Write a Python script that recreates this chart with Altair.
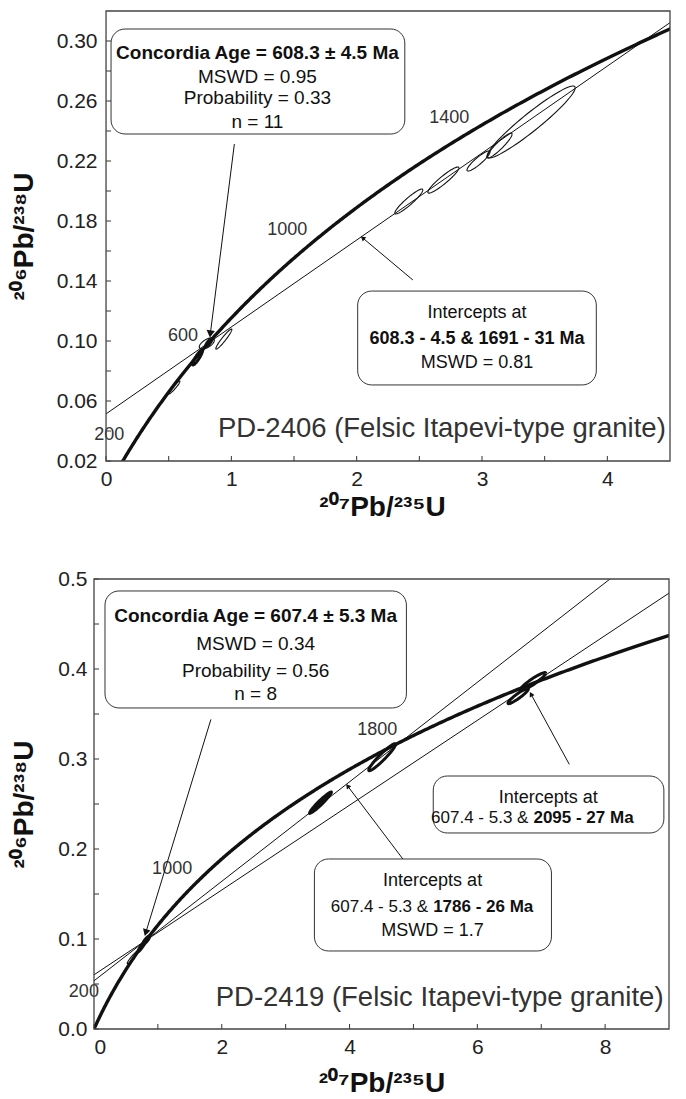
import numpy as np
import pandas as pd
import altair as alt

FONT = "Liberation Sans"
INK = "#111111"
FRAME = "#444444"

# U-Pb decay constants (1/yr)
LAMBDA_238 = 1.55125e-10
LAMBDA_235 = 9.8485e-10


def concordia(age_ma):
    t = np.asarray(age_ma, dtype=float) * 1e6
    return np.expm1(LAMBDA_235 * t), np.expm1(LAMBDA_238 * t)


# ages (Ma) at which the concordia curve is traced
curve_ages_ma = list(range(0, 2601, 5))

X_TITLE = "²⁰⁷Pb/²³⁵U"
Y_TITLE = "²⁰⁶Pb/²³⁸U"

# ---------------- PD-2406 ----------------
a_name = "PD-2406 (Felsic Itapevi-type granite)"
a_conc_age, a_conc_err, a_conc_mswd, a_conc_prob, a_n = 608.3, 4.5, 0.95, 0.33, 11
a_lower, a_lower_err = 608.3, 4.5
a_upper, a_upper_err, a_mswd = [1691], [31], [0.81]
a_age_marks = [200, 600, 1000, 1400]
a_ell_cx = [2.416, 2.692, 2.972, 3.140, 3.392, 0.804, 0.940, 0.545, 0.730]
a_ell_cy = [0.1930, 0.2073, 0.2200, 0.2303, 0.2460, 0.0983, 0.1013, 0.0690, 0.0890]
a_ell_hx = [0.112, 0.124, 0.092, 0.100, 0.352, 0.060, 0.064, 0.045, 0.040]
a_ell_hy = [0.0083, 0.0087, 0.0067, 0.0083, 0.0240, 0.0037, 0.0067, 0.0043, 0.0050]
a_ell_rho = [0.93, 0.93, 0.90, 0.92, 0.95, 0.60, 0.95, 0.95, 0.90]
a_ell_style = ["thin"] * 8 + ["bold"]

# ---------------- PD-2419 ----------------
b_name = "PD-2419 (Felsic Itapevi-type granite)"
b_conc_age, b_conc_err, b_conc_mswd, b_conc_prob, b_n = 607.4, 5.3, 0.34, 0.56, 8
b_lower, b_lower_err = 607.4, 5.3
b_upper, b_upper_err, b_mswd = [1786, 2095], [26, 27], [1.7, None]
b_age_marks = [200, 1000, 1800]
b_ell_cx = [3.545, 4.510, 6.640, 6.870, 0.610, 0.750]
b_ell_cy = [0.2515, 0.3020, 0.3700, 0.3860, 0.0800, 0.0920]
b_ell_hx = [0.180, 0.210, 0.160, 0.200, 0.090, 0.060]
b_ell_hy = [0.0125, 0.0150, 0.0085, 0.0100, 0.0075, 0.0060]
b_ell_rho = [0.95, 0.95, 0.93, 0.93, 0.95, 0.95]
b_ell_style = ["solid", "bold", "bold", "bold", "thin", "bold"]


def ellipse_frame(cx, cy, hx, hy, rho, style):
    rows = []
    th = np.linspace(0, 2 * np.pi, 73)
    for i in range(len(cx)):
        xs = cx[i] + hx[i] * np.cos(th)
        ys = cy[i] + hy[i] * (rho[i] * np.cos(th) + np.sqrt(1 - rho[i] ** 2) * np.sin(th))
        for k, (x, y) in enumerate(zip(xs, ys)):
            rows.append({"id": i, "k": k, "x": x, "y": y, "style": style[i]})
    return pd.DataFrame(rows)


def discordia_frame(lower, uppers, xmax):
    rows = []
    x0, y0 = concordia(lower)
    for j, up in enumerate(uppers):
        x1, y1 = concordia(up)
        slope = (y1 - y0) / (x1 - x0)
        b = y0 - slope * x0
        for k, x in enumerate([0.0, xmax]):
            rows.append({"id": j, "k": k, "x": x, "y": b + slope * x})
    return pd.DataFrame(rows)


PANELS = [
    dict(
        name=a_name, conc=(a_conc_age, a_conc_err, a_conc_mswd, a_conc_prob, a_n),
        lower=(a_lower, a_lower_err), upper=list(zip(a_upper, a_upper_err, a_mswd)),
        age_marks=a_age_marks,
        ell=(a_ell_cx, a_ell_cy, a_ell_hx, a_ell_hy, a_ell_rho, a_ell_style),
        # the scale starts a little left of the frame so the y labels sit in that gutter
        frame_x=[0, 4.5], xdom=[-0.096, 4.5], ydom=[0.02, 0.32], w=576, h=450,
        xlabels=[0, 1, 2, 3, 4], xminor=[0.5, 1.5, 2.5, 3.5],
        ylabels=[0.02, 0.06, 0.10, 0.14, 0.18, 0.22, 0.26, 0.30],
        yminor=[0.04, 0.08, 0.12, 0.16, 0.20, 0.24, 0.28], yfmt=".2f",
        ypad=(-3, 18), xtpad=4,
        conc_box=dict(x=[0.04, 2.384], y=[0.238, 0.308], cx=1.208,
                      ys=[0.292, 0.276, 0.262, 0.246]),
        icpt_boxes=[dict(x=[2.008, 3.912], y=[0.0707, 0.1333], cx=2.96,
                         ys=[0.1187, 0.1013, 0.0853], split=None)],
        leaders=[((1.024, 0.2313), (0.832, 0.1047), 70),
                 ((2.448, 0.1407), (2.048, 0.1687), 30)],
        name_pos=(2.68, 0.0413),
    ),
    dict(
        name=b_name, conc=(b_conc_age, b_conc_err, b_conc_mswd, b_conc_prob, b_n),
        lower=(b_lower, b_lower_err), upper=list(zip(b_upper, b_upper_err, b_mswd)),
        age_marks=b_age_marks,
        ell=(b_ell_cx, b_ell_cy, b_ell_hx, b_ell_hy, b_ell_rho, b_ell_style),
        frame_x=[0, 9], xdom=[0, 9], ydom=[0.0, 0.5], w=575, h=450,
        xlabels=[0, 2, 4, 6, 8], xminor=[1, 3, 5, 7],
        ylabels=[0.0, 0.1, 0.2, 0.3, 0.4, 0.5],
        yminor=[0.05, 0.15, 0.25, 0.35, 0.45], yfmt=".1f",
        ypad=(7, 19), xtpad=12,
        conc_box=dict(x=[0.172, 4.89], y=[0.3567, 0.4867], cx=2.53,
                      ys=[0.4589, 0.4278, 0.3978, 0.3722]),
        icpt_boxes=[dict(x=[3.45, 7.16], y=[0.0867, 0.1889], cx=5.30,
                         ys=[0.1644, 0.1356, 0.1089], split=5.23),
                    dict(x=[5.31, 8.92], y=[0.2178, 0.2811], cx=7.11,
                         ys=[0.2567, 0.2344], split=6.80)],
        leaders=[((1.83, 0.344), (0.81, 0.107), 60),
                 ((4.94, 0.179), (3.97, 0.270), 30),
                 ((7.44, 0.294), (6.84, 0.372), 30)],
        name_pos=(5.41, 0.0344),
    ),
]


def build_panel(p):
    xs = alt.Scale(domain=p["xdom"], nice=False, zero=False)
    ys = alt.Scale(domain=p["ydom"], nice=False, zero=False)
    X = alt.X("x:Q", scale=xs, title=X_TITLE,
              axis=alt.Axis(values=p["xlabels"], format="d", titlePadding=p["xtpad"]))
    Y = alt.Y("y:Q", scale=ys, title=Y_TITLE,
              axis=alt.Axis(values=p["ylabels"], format=p["yfmt"],
                            labelPadding=p["ypad"][0], titlePadding=p["ypad"][1]))
    kx = p["w"] / (p["xdom"][1] - p["xdom"][0])
    ky = p["h"] / (p["ydom"][1] - p["ydom"][0])
    fx0, fx1 = p["frame_x"]
    layers = []

    # inward ticks
    xt = pd.DataFrame({"x": p["xlabels"] + p["xminor"], "y": p["ydom"][0]})
    layers.append(alt.Chart(xt).mark_rule(color="#333", strokeWidth=1).encode(
        x=X, y=alt.value(p["h"]), y2=alt.value(p["h"] - 5)))
    yt = pd.DataFrame({"y": p["ylabels"] + p["yminor"], "x": fx0, "x2": fx0 + 5 / kx})
    layers.append(alt.Chart(yt).mark_rule(color="#333", strokeWidth=1).encode(
        y=Y, x=X, x2="x2:Q"))

    # discordia lines
    dd = discordia_frame(p["lower"][0], [u[0] for u in p["upper"]], fx1)
    layers.append(alt.Chart(dd).mark_line(color=INK, strokeWidth=1, clip=True).encode(
        x=X, y=Y, detail="id:N", order="k:Q"))

    # concordia curve
    cx, cy = concordia(curve_ages_ma)
    cdf = pd.DataFrame({"x": cx, "y": cy, "k": range(len(cx))})
    layers.append(alt.Chart(cdf).mark_line(color=INK, strokeWidth=3.4, clip=True).encode(
        x=X, y=Y, order="k:Q"))

    # error ellipses
    edf = ellipse_frame(*p["ell"])
    widths = {"thin": 1.1, "bold": 3.0, "solid": 2.0}
    for st, sw in widths.items():
        sub = edf[edf["style"] == st]
        if sub.empty:
            continue
        kw = dict(color=INK, strokeWidth=sw, clip=True)
        if st == "solid":
            kw["fill"] = INK
        layers.append(alt.Chart(sub).mark_line(**kw).encode(
            x=X, y=Y, detail="id:N", order="k:Q"))

    # concordia age ellipse
    ax, ay = concordia(p["conc"][0])
    cae = ellipse_frame([float(ax)], [float(ay)], [0.03 * fx1 / 4.5],
                        [0.003 * (p["ydom"][1] - p["ydom"][0]) / 0.3], [0.8], ["solid"])
    layers.append(alt.Chart(cae).mark_line(color=INK, fill=INK, strokeWidth=2).encode(
        x=X, y=Y, order="k:Q"))

    # age labels along the concordia
    mx, my = concordia(p["age_marks"])
    adf = pd.DataFrame({"x": mx, "y": my, "text": [str(a) for a in p["age_marks"]]})
    layers.append(alt.Chart(adf).mark_text(font=FONT, fontSize=18, color="#333",
                                           align="right", baseline="middle",
                                           dx=-9, dy=-9).encode(x=X, y=Y, text="text:N"))

    # leader lines + arrowheads
    lrows, hrows = [], []
    for j, ((x0, y0), (x1, y1), size) in enumerate(p["leaders"]):
        lrows += [{"id": j, "k": 0, "x": x0, "y": y0}, {"id": j, "k": 1, "x": x1, "y": y1}]
        dxp = (x1 - x0) * kx
        dyp = -(y1 - y0) * ky
        ang = (np.degrees(np.arctan2(dxp, -dyp)) + 360) % 360
        hrows.append({"x": x1, "y": y1, "ang": ang, "size": size})
    layers.append(alt.Chart(pd.DataFrame(lrows)).mark_line(color=INK, strokeWidth=1).encode(
        x=X, y=Y, detail="id:N", order="k:Q"))
    layers.append(alt.Chart(pd.DataFrame(hrows)).mark_point(
        shape="triangle-up", filled=True, color=INK, opacity=1).encode(
        x=X, y=Y, angle=alt.Angle("ang:Q", scale=None), size=alt.Size("size:Q", scale=None)))

    # callout boxes
    boxes = [p["conc_box"]] + p["icpt_boxes"]
    bdf = pd.DataFrame({"x": [b["x"][0] for b in boxes], "x2": [b["x"][1] for b in boxes],
                        "y": [b["y"][0] for b in boxes], "y2": [b["y"][1] for b in boxes]})
    layers.append(alt.Chart(bdf).mark_rect(cornerRadius=14, fill="white", stroke="#333",
                                           strokeWidth=1).encode(
        x=X, x2="x2:Q", y=Y, y2="y2:Q"))

    texts = []  # (x, y, text, weight, size, align, dx)
    age, err, mswd, prob, n = p["conc"]
    cb = p["conc_box"]
    texts.append((cb["cx"], cb["ys"][0], f"Concordia Age = {age} ± {err} Ma", "bold", 19, "center", 0))
    texts.append((cb["cx"], cb["ys"][1], f"MSWD = {mswd}", "normal", 19, "center", 0))
    texts.append((cb["cx"], cb["ys"][2], f"Probability = {prob}", "normal", 19, "center", 0))
    texts.append((cb["cx"], cb["ys"][3], f"n = {n}", "normal", 19, "center", 0))
    lo, lo_err = p["lower"]
    for box, (up, up_err, m) in zip(p["icpt_boxes"], p["upper"]):
        texts.append((box["cx"], box["ys"][0], "Intercepts at", "normal", 18, "center", 0))
        if box["split"] is None:
            texts.append((box["cx"], box["ys"][1],
                          f"{lo} - {lo_err} & {up} - {up_err} Ma", "bold", 18, "center", 0))
        else:
            texts.append((box["split"], box["ys"][1], f"{lo} - {lo_err} &", "normal", 17, "right", 0))
            texts.append((box["split"], box["ys"][1], f"{up} - {up_err} Ma", "bold", 17, "left", 5))
        if m is not None:
            texts.append((box["cx"], box["ys"][2], f"MSWD = {m}", "normal", 18, "center", 0))
    tdf = pd.DataFrame(texts, columns=["x", "y", "text", "weight", "size", "align", "dx"])
    for (w, s, a, d), sub in tdf.groupby(["weight", "size", "align", "dx"]):
        layers.append(alt.Chart(sub).mark_text(font=FONT, fontWeight=w, fontSize=int(s),
                                               align=a, baseline="middle", color=INK,
                                               dx=int(d)).encode(
            x=X, y=Y, text="text:N"))

    # sample name
    ndf = pd.DataFrame({"x": [p["name_pos"][0]], "y": [p["name_pos"][1]], "text": [p["name"]]})
    layers.append(alt.Chart(ndf).mark_text(font=FONT, fontSize=27.5, color="#333",
                                           align="center", baseline="middle").encode(
        x=X, y=Y, text="text:N"))

    # plot frame
    fdf = pd.DataFrame({"x": [fx0], "x2": [fx1], "y": [p["ydom"][0]], "y2": [p["ydom"][1]]})
    layers.append(alt.Chart(fdf).mark_rect(fillOpacity=0, stroke=FRAME, strokeWidth=1.3).encode(
        x=X, x2="x2:Q", y=Y, y2="y2:Q"))

    return alt.layer(*layers).properties(width=p["w"], height=p["h"])


top = build_panel(PANELS[0])
bottom = build_panel(PANELS[1])

chart = alt.vconcat(top, bottom, spacing=47).configure_axis(
    labelFont=FONT, labelFontSize=21, labelColor="#222",
    titleFont=FONT, titleFontSize=28, titleFontWeight="bold", titleColor=INK,
    grid=False, domain=False, ticks=False, tickSize=0,
).configure_axisX(labelPadding=7).configure_view(strokeWidth=0).properties(
    padding={"left": 10, "top": 10, "right": 5, "bottom": 3}, background="white"
)

chart.save("out.html", embed_options={"renderer": "svg", "actions": False})
